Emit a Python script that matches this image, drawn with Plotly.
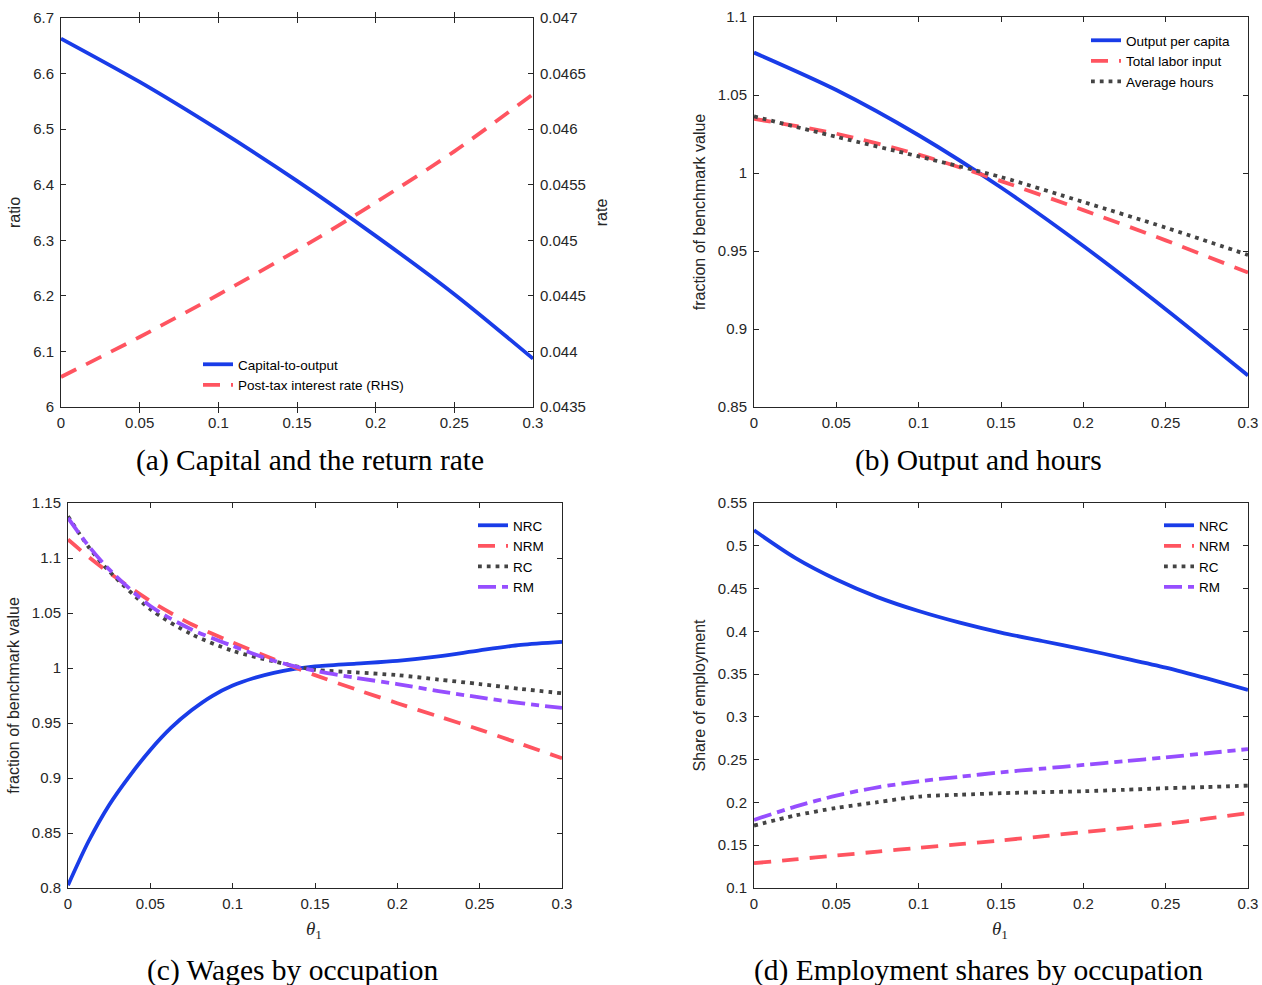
import plotly.graph_objects as go

# ---------------- data ----------------
# Panel (a)
x_a = [0, 0.05, 0.1, 0.15, 0.2, 0.25, 0.3]
capital_to_output = [6.663, 6.585, 6.499, 6.407, 6.308, 6.203, 6.087]
post_tax_rate = [0.04377, 0.04413, 0.04451, 0.04491, 0.04534, 0.04580, 0.046315]

# Panel (b)
x_b = [0, 0.05, 0.1, 0.15, 0.2, 0.25, 0.3]
output_per_capita = [1.0772, 1.0532, 1.0242, 0.9907, 0.9532, 0.9127, 0.8702]
total_labor_input = [1.0347, 1.0252, 1.0118, 0.9948, 0.9762, 0.9568, 0.9362]
average_hours = [1.0363, 1.0232, 1.0106, 0.9974, 0.9814, 0.9650, 0.9475]

# Panel (c)
x_c_nrc = [0, 0.0125, 0.025, 0.0375, 0.05, 0.0625, 0.075, 0.0875, 0.1, 0.1125, 0.125, 0.1375,
           0.15, 0.175, 0.2, 0.225, 0.25, 0.275, 0.3]
wage_nrc = [0.8025, 0.8425, 0.8755, 0.902, 0.9255, 0.9455, 0.9615, 0.9745, 0.9840, 0.9907, 0.9956, 0.9991,
            1.0015, 1.0040, 1.0065, 1.0105, 1.0160, 1.0210, 1.0238]
x_c = [0, 0.0125, 0.025, 0.05, 0.075, 0.1, 0.125, 0.15, 0.175, 0.2, 0.225, 0.25, 0.275, 0.3]
wage_nrm = [1.1168, 1.101, 1.0866, 1.0609, 1.0398, 1.0232, 1.008, 0.9935, 0.9805, 0.968, 0.956, 0.944, 0.931, 0.918]
wage_rc = [1.138, 1.11, 1.088, 1.0534, 1.0307, 1.0156, 1.006, 0.9984, 0.996, 0.9935, 0.9895, 0.9854, 0.981, 0.977]
wage_rm = [1.1364, 1.111, 1.0896, 1.0563, 1.035, 1.02, 1.0066, 0.9975, 0.991, 0.9854, 0.979, 0.9733, 0.968, 0.9637]

# Panel (d)
x_d = [0, 0.025, 0.05, 0.075, 0.1, 0.125, 0.15, 0.175, 0.2, 0.225, 0.25, 0.275, 0.3]
emp_nrc = [0.5181, 0.4859, 0.4606, 0.44, 0.4237, 0.4101, 0.3985, 0.3887, 0.379, 0.3685, 0.3576, 0.345, 0.3316]
emp_nrm = [0.129, 0.1335, 0.138, 0.1425, 0.147, 0.1513, 0.1556, 0.1604, 0.1653, 0.170, 0.175, 0.181, 0.1875]
emp_rc = [0.173, 0.1847, 0.1936, 0.2003, 0.2069, 0.209, 0.2108, 0.212, 0.2131, 0.2148, 0.2166, 0.218, 0.2197]
emp_rm = [0.1796, 0.1951, 0.208, 0.2177, 0.2247, 0.230, 0.2352, 0.2395, 0.2438, 0.2482, 0.2527, 0.2575, 0.2624]

# tick labels
x_ticks = [0, 0.05, 0.1, 0.15, 0.2, 0.25, 0.3]
x_ticktext = ["0", "0.05", "0.1", "0.15", "0.2", "0.25", "0.3"]
a_left_ticks = [6, 6.1, 6.2, 6.3, 6.4, 6.5, 6.6, 6.7]
a_left_text = ["6", "6.1", "6.2", "6.3", "6.4", "6.5", "6.6", "6.7"]
a_right_ticks = [0.0435, 0.044, 0.0445, 0.045, 0.0455, 0.046, 0.0465, 0.047]
a_right_text = ["0.0435", "0.044", "0.0445", "0.045", "0.0455", "0.046", "0.0465", "0.047"]
b_ticks = [0.85, 0.9, 0.95, 1, 1.05, 1.1]
b_text = ["0.85", "0.9", "0.95", "1", "1.05", "1.1"]
c_ticks = [0.8, 0.85, 0.9, 0.95, 1, 1.05, 1.1, 1.15]
c_text = ["0.8", "0.85", "0.9", "0.95", "1", "1.05", "1.1", "1.15"]
d_ticks = [0.1, 0.15, 0.2, 0.25, 0.3, 0.35, 0.4, 0.45, 0.5, 0.55]
d_text = ["0.1", "0.15", "0.2", "0.25", "0.3", "0.35", "0.4", "0.45", "0.5", "0.55"]

# ---------------- styles ----------------
BLUE = "rgb(25,60,232)"
RED = "rgb(255,84,96)"
GREY = "rgb(68,68,68)"
PURPLE = "rgb(150,78,255)"
DASH = "17px,11px"
DOT = "3.8px,5px"
DASHDOT = "18px,6px,8px,6px"
W = 3.8

W_PX, H_PX = 1262, 985


def px_x(p):
    return p / W_PX


def px_y(p):
    return 1 - p / H_PX


fig = go.Figure()


def line(x, y, name, color, dash, xa, ya, legend, width=W):
    fig.add_trace(go.Scatter(
        x=x, y=y, name=name, mode="lines", xaxis=xa, yaxis=ya, legend=legend,
        line=dict(color=color, width=width, dash=dash, shape="spline", smoothing=0.8),
    ))


# panel a
line(x_a, capital_to_output, "Capital-to-output", BLUE, "solid", "x", "y", "legend")
line(x_a, post_tax_rate, "Post-tax interest rate (RHS)", RED, DASH, "x", "y2", "legend")
# panel b
line(x_b, output_per_capita, "Output per capita", BLUE, "solid", "x2", "y3", "legend2")
line(x_b, total_labor_input, "Total labor input", RED, DASH, "x2", "y3", "legend2")
line(x_b, average_hours, "Average hours", GREY, DOT, "x2", "y3", "legend2")
# panel c
line(x_c_nrc, wage_nrc, "NRC", BLUE, "solid", "x3", "y4", "legend3")
line(x_c, wage_nrm, "NRM", RED, DASH, "x3", "y4", "legend3")
line(x_c, wage_rc, "RC", GREY, DOT, "x3", "y4", "legend3")
line(x_c, wage_rm, "RM", PURPLE, DASHDOT, "x3", "y4", "legend3")
# panel d
line(x_d, emp_nrc, "NRC", BLUE, "solid", "x4", "y5", "legend4")
line(x_d, emp_nrm, "NRM", RED, DASH, "x4", "y5", "legend4")
line(x_d, emp_rc, "RC", GREY, DOT, "x4", "y5", "legend4")
line(x_d, emp_rm, "RM", PURPLE, DASHDOT, "x4", "y5", "legend4")

AX_COLOR = "#262626"
SANS = "Liberation Sans, Arial, Helvetica, sans-serif"
TICK_FONT = dict(family=SANS, size=15, color="#262626")
TITLE_FONT = dict(family=SANS, size=16, color="#262626")


def xaxis(dom, anchor):
    return dict(domain=dom, anchor=anchor, range=[0, 0.3], tickvals=x_ticks, ticktext=x_ticktext,
                ticks="inside", ticklen=5, tickcolor=AX_COLOR, showline=True, linecolor=AX_COLOR,
                linewidth=1, mirror="allticks", showgrid=False, zeroline=False, tickfont=TICK_FONT,
                automargin=False, ticklabelstandoff=2)


def yaxis(dom, anchor, rng, tv, tt, title, mirror="allticks", standoff=10):
    return dict(domain=dom, anchor=anchor, range=rng, tickvals=tv, ticktext=tt,
                ticks="inside", ticklen=5, tickcolor=AX_COLOR, showline=True, linecolor=AX_COLOR,
                linewidth=1, mirror=mirror, showgrid=False, zeroline=False, tickfont=TICK_FONT,
                automargin=False, ticklabelstandoff=3,
                title=dict(text=title, font=TITLE_FONT, standoff=standoff))


dom_a_x = [px_x(61), px_x(533)]
dom_b_x = [px_x(754), px_x(1248)]
dom_c_x = [px_x(68), px_x(562)]
dom_d_x = dom_b_x
dom_top_y = [px_y(407), px_y(18)]
dom_top_b_y = [px_y(407), px_y(17)]
dom_bot_y = [px_y(888), px_y(503)]

legend_common = dict(bgcolor="rgba(0,0,0,0)", borderwidth=0, xanchor="left", yanchor="top",
                     font=dict(family=SANS, size=13.5, color="#000"),
                     tracegroupgap=0, itemwidth=30)

fig.update_layout(
    width=W_PX, height=H_PX, autosize=False,
    margin=dict(l=0, r=0, t=0, b=0, pad=0, autoexpand=False),
    paper_bgcolor="white", plot_bgcolor="white",
    showlegend=True,
    xaxis=xaxis(dom_a_x, "y"),
    yaxis=yaxis(dom_top_y, "x", [6, 6.7], a_left_ticks, a_left_text, "ratio", mirror=True, standoff=8),
    yaxis2=dict(domain=dom_top_y, anchor="x", overlaying="y", side="right", range=[0.0435, 0.047],
                tickvals=a_right_ticks, ticktext=a_right_text, ticks="inside", ticklen=5,
                tickcolor=AX_COLOR, showline=True, linecolor=AX_COLOR, linewidth=1,
                showgrid=False, zeroline=False, tickfont=TICK_FONT, automargin=False,
                ticklabelstandoff=3,
                title=dict(text="rate", font=TITLE_FONT, standoff=10)),
    xaxis2=xaxis(dom_b_x, "y3"),
    yaxis3=yaxis(dom_top_b_y, "x2", [0.85, 1.1], b_ticks, b_text, "fraction of benchmark value", standoff=8),
    xaxis3=xaxis(dom_c_x, "y4"),
    yaxis4=yaxis(dom_bot_y, "x3", [0.8, 1.15], c_ticks, c_text, "fraction of benchmark value", standoff=8),
    xaxis4=xaxis(dom_d_x, "y5"),
    yaxis5=yaxis(dom_bot_y, "x4", [0.1, 0.55], d_ticks, d_text, "Share of employment", standoff=8),
    legend=dict(legend_common, x=px_x(198), y=px_y(349)),
    legend2=dict(legend_common, x=px_x(1086), y=px_y(25)),
    legend3=dict(legend_common, x=px_x(473), y=px_y(510)),
    legend4=dict(legend_common, x=px_x(1159), y=px_y(510)),
)

CAP_FONT = dict(family="Palatino Linotype, Palatino, Book Antiqua, Liberation Serif, serif", size=29.5, color="#000")
captions = [
    ("(a) Capital and the return rate", 310, 460),
    ("(b) Output and hours", 978, 460),
    ("(c) Wages by occupation", 292, 970),
    ("(d) Employment shares by occupation", 978, 970),
]
for text, cx, cy in captions:
    fig.add_annotation(text=text, x=px_x(cx), y=px_y(cy), xref="paper", yref="paper",
                       showarrow=False, xanchor="center", yanchor="middle", font=CAP_FONT)

THETA_FONT = dict(family="Liberation Serif, serif", size=19, color="#262626")
for cx in (314, 1000):
    fig.add_annotation(text="<i>θ</i><sub>1</sub>", x=px_x(cx), y=px_y(930), xref="paper", yref="paper",
                       showarrow=False, xanchor="center", yanchor="middle", font=THETA_FONT)

fig.write_html("out.html")
